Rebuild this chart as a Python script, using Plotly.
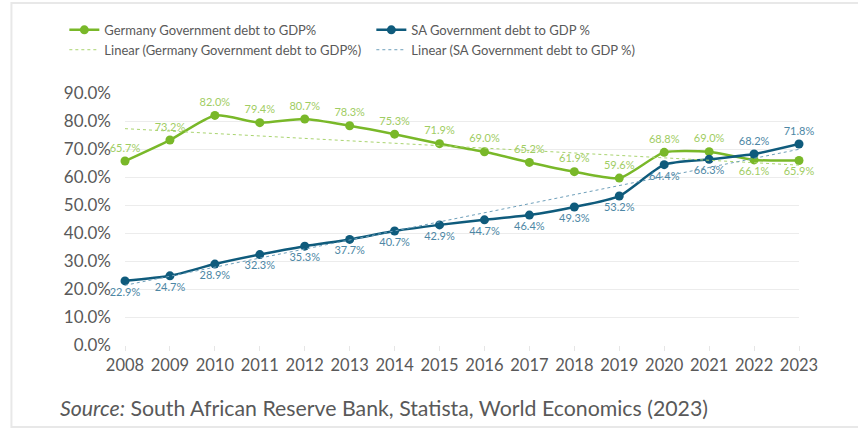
import plotly.graph_objects as go
import numpy as np

years = list(range(2008, 2024))
germany = [65.7, 73.2, 82.0, 79.4, 80.7, 78.3, 75.3, 71.9, 69.0, 65.2, 61.9, 59.6, 68.8, 69.0, 66.1, 65.9]
sa = [22.9, 24.7, 28.9, 32.3, 35.3, 37.7, 40.7, 42.9, 44.7, 46.4, 49.3, 53.2, 64.4, 66.3, 68.2, 71.8]
y_ticks = [0, 10, 20, 30, 40, 50, 60, 70, 80, 90]

GREEN = "#79b829"
GREEN_LBL = "#9fcd63"
BLUE = "#0f5b7c"
BLUE_LBL = "#4d87a5"
FONT = "Lato"

def trend(vals):
    x = np.array(years, dtype=float)
    m, b = np.polyfit(x, np.array(vals), 1)
    return list(m * x + b)

ger_pos = ["top center"] * 16
ger_pos[14] = "bottom center"
ger_pos[15] = "bottom center"
sa_pos = ["bottom center"] * 16
sa_pos[14] = "top center"
sa_pos[15] = "top center"

fig = go.Figure()
fig.add_trace(go.Scatter(
    x=years, y=germany, name="Germany Government debt to GDP%",
    mode="lines+markers+text", line=dict(color=GREEN, width=2.5, shape="spline", smoothing=0.6),
    marker=dict(size=9, color=GREEN),
    text=[f"{v:.1f}%" for v in germany], textposition=ger_pos,
    textfont=dict(color=GREEN_LBL, size=11, family=FONT), cliponaxis=False))
fig.add_trace(go.Scatter(
    x=years, y=sa, name="SA Government debt to GDP %",
    mode="lines+markers+text", line=dict(color=BLUE, width=2.5, shape="spline", smoothing=0.6),
    marker=dict(size=9, color=BLUE),
    text=[f"{v:.1f}%" for v in sa], textposition=sa_pos,
    textfont=dict(color=BLUE_LBL, size=11, family=FONT), cliponaxis=False))
fig.add_trace(go.Scatter(
    x=years, y=trend(germany), name="Linear (Germany Government debt to GDP%)",
    mode="lines", line=dict(color="#a9d46f", width=1, dash="dot"), cliponaxis=False))
fig.add_trace(go.Scatter(
    x=years, y=trend(sa), name="Linear (SA Government debt to GDP %)",
    mode="lines", line=dict(color="#6e9fba", width=1, dash="dot"), cliponaxis=False))

fig.update_layout(
    width=858, height=428,
    margin=dict(l=125, r=59, t=93, b=83),
    paper_bgcolor="white", plot_bgcolor="white",
    font=dict(family=FONT, color="#595959"),
    showlegend=True,
    legend=dict(orientation="h", x=-0.09, xanchor="left", y=1.31, yanchor="top",
                entrywidth=262, tracegroupgap=0, itemwidth=30,
                font=dict(size=13, color="#595959", family=FONT)),
    xaxis=dict(range=[2008, 2023], tickmode="array", tickvals=years,
               ticktext=[str(y) for y in years], showgrid=False,
               ticks="outside", ticklen=5, tickcolor="#e6e6e6",
               showline=False, zeroline=False,
               tickfont=dict(size=16.5, color="#595959", family=FONT)),
    yaxis=dict(range=[0, 90], tickmode="array", tickvals=y_ticks,
               ticktext=[f"{v:.1f}%" for v in y_ticks],
               gridcolor="#ececec", gridwidth=1, zeroline=False, showline=False,
               ticklabelstandoff=13,
               tickfont=dict(size=17, color="#595959", family=FONT)),
    shapes=[dict(type="rect", xref="paper", yref="paper",
                 x0=-0.1685, x1=1.09, y0=-0.325, y1=1.357,
                 line=dict(color="#e8e8e8", width=2))],
    annotations=[dict(xref="paper", yref="paper", x=-0.1, y=-0.19,
                      xanchor="left", yanchor="top", showarrow=False,
                      text="<i>Source:</i> South African Reserve Bank, Statista, World Economics (2023)",
                      font=dict(size=21.3, color="#595959", family=FONT))],
)

fig.write_html("out.html", config={"displayModeBar": False},
               post_script="document.body.style.margin='0';")
